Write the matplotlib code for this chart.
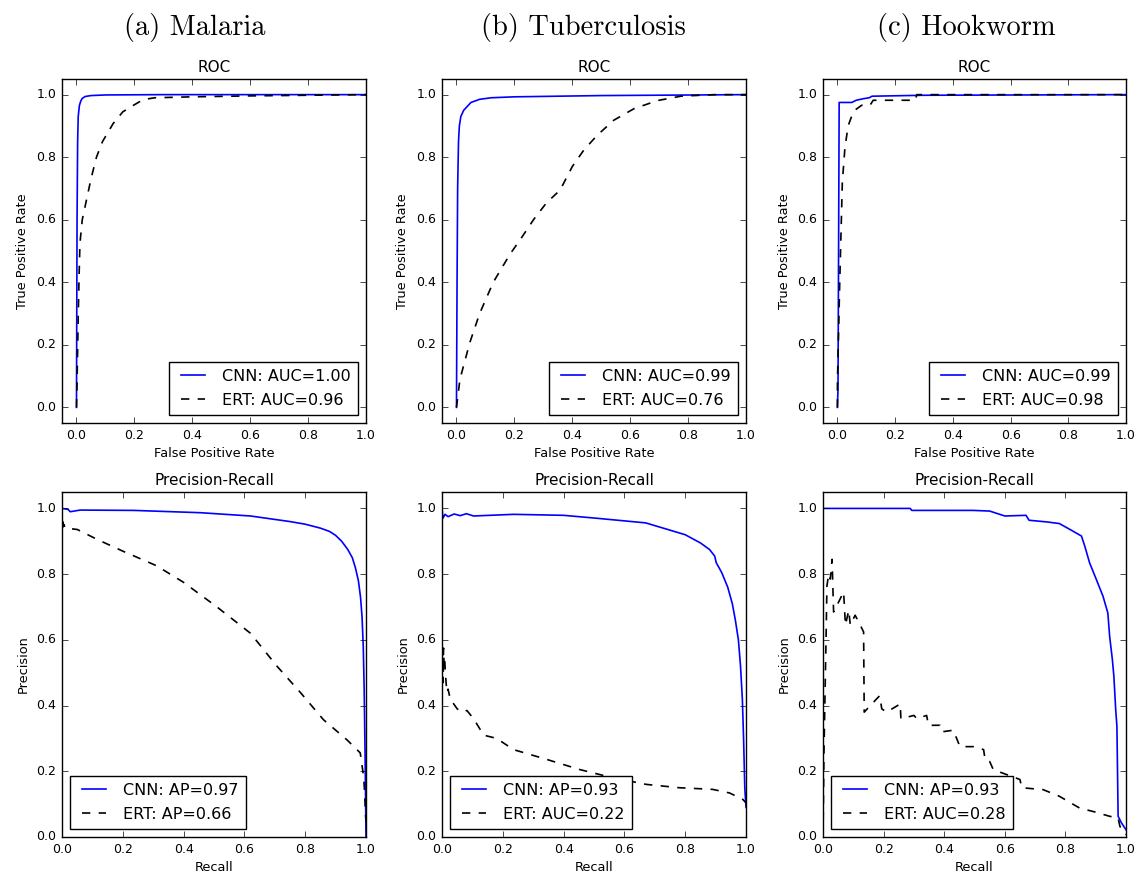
import numpy as np
import matplotlib
matplotlib.use('Agg')
import matplotlib.pyplot as plt

plt.style.use('classic')
plt.rcParams['font.family'] = ['DejaVu Sans']
plt.rcParams['savefig.facecolor'] = 'white'

# ---- data ----
col_titles = ['(a) Malaria', '(b) Tuberculosis', '(c) Hookworm']

# ROC curves (false positive rate, true positive rate)
mal_roc_cnn_x = [0, 0.001, 0.002, 0.004, 0.006, 0.01, 0.015, 0.02, 0.03, 0.05, 0.1, 0.3, 1.0]
mal_roc_cnn_y = [0, 0.3, 0.6, 0.85, 0.93, 0.965, 0.98, 0.988, 0.994, 0.997, 0.999, 1.0, 1.0]
mal_roc_ert_x = [0, 0.002, 0.006, 0.009, 0.012, 0.02, 0.037, 0.05, 0.069, 0.09, 0.127, 0.16, 0.197,
                 0.23, 0.27, 0.4, 0.6, 0.8, 1.0]
mal_roc_ert_y = [0, 0.08, 0.29, 0.42, 0.525, 0.6, 0.674, 0.73, 0.80, 0.85, 0.908, 0.945, 0.966,
                 0.984, 0.99, 0.993, 0.996, 0.998, 1.0]

tb_roc_cnn_x = [0, 0.002, 0.004, 0.007, 0.01, 0.015, 0.025, 0.035, 0.05, 0.08, 0.12, 0.2, 0.5, 1.0]
tb_roc_cnn_y = [0, 0.4, 0.7, 0.85, 0.9, 0.93, 0.95, 0.96, 0.975, 0.985, 0.99, 0.993, 0.997, 1.0]
tb_roc_ert_x = [0, 0.012, 0.046, 0.08, 0.127, 0.185, 0.22, 0.266, 0.31, 0.358, 0.40, 0.44, 0.486,
                0.543, 0.613, 0.694, 0.775, 0.89, 1.0]
tb_roc_ert_y = [0, 0.09, 0.207, 0.30, 0.40, 0.49, 0.536, 0.60, 0.653, 0.695, 0.77, 0.823, 0.87,
                0.918, 0.955, 0.981, 0.995, 1.0, 1.0]

hk_roc_cnn_x = [0, 0.002, 0.004, 0.006, 0.05, 0.065, 0.09, 0.11, 0.12, 0.3, 1.0]
hk_roc_cnn_y = [0, 0.06, 0.5, 0.975, 0.975, 0.982, 0.987, 0.99, 0.995, 0.998, 1.0]
hk_roc_ert_x = [0, 0.0, 0.008, 0.017, 0.026, 0.037, 0.049, 0.06, 0.084, 0.113, 0.124, 0.27, 0.275, 1.0]
hk_roc_ert_y = [0, 0.08, 0.40, 0.72, 0.83, 0.90, 0.93, 0.95, 0.966, 0.966, 0.982, 0.982, 1.0, 1.0]

# Precision-Recall curves (recall, precision)
mal_pr_cnn_x = [0, 0.02, 0.027, 0.06, 0.236, 0.455, 0.62, 0.75, 0.8, 0.85, 0.88, 0.9, 0.92, 0.94,
                0.955, 0.965, 0.975, 0.982, 0.987, 0.991, 0.994, 0.997, 1.0]
mal_pr_cnn_y = [1.0, 0.997, 0.99, 0.995, 0.994, 0.987, 0.977, 0.96, 0.952, 0.94, 0.93, 0.918, 0.90,
                0.875, 0.85, 0.82, 0.78, 0.73, 0.67, 0.58, 0.45, 0.25, 0.0]
mal_pr_ert_x = [0, 0.001, 0.002, 0.003, 0.004, 0.005, 0.007, 0.01, 0.05, 0.115, 0.2, 0.31, 0.4,
                0.51, 0.62, 0.707, 0.784, 0.86, 0.937, 0.981, 0.992, 0.996, 0.998, 1.0]
mal_pr_ert_y = [0.97, 0.93, 0.96, 0.94, 0.955, 0.945, 0.95, 0.94, 0.936, 0.906, 0.87, 0.826, 0.775,
                0.70, 0.62, 0.52, 0.44, 0.357, 0.296, 0.256, 0.185, 0.13, 0.07, 0.05]

tb_pr_cnn_x = [0, 0.003, 0.01, 0.02, 0.04, 0.06, 0.08, 0.104, 0.235, 0.4, 0.51, 0.67, 0.8, 0.85,
               0.88, 0.897, 0.902, 0.92, 0.94, 0.955, 0.965, 0.975, 0.982, 0.988, 0.992, 0.996, 1.0]
tb_pr_cnn_y = [1.0, 0.97, 0.982, 0.975, 0.983, 0.978, 0.984, 0.977, 0.982, 0.979, 0.97, 0.956, 0.92,
               0.895, 0.875, 0.855, 0.835, 0.805, 0.76, 0.71, 0.66, 0.60, 0.52, 0.42, 0.30, 0.15, 0.09]
tb_pr_ert_x = [0, 0.002, 0.004, 0.005, 0.007, 0.009, 0.011, 0.016, 0.02, 0.027, 0.05, 0.065, 0.082,
               0.104, 0.137, 0.18, 0.235, 0.345, 0.454, 0.563, 0.673, 0.78, 0.89, 0.946, 0.99, 1.0]
tb_pr_ert_y = [0.5, 0.57, 0.47, 0.575, 0.52, 0.54, 0.5, 0.44, 0.45, 0.42, 0.39, 0.38, 0.385,
               0.36, 0.31, 0.30, 0.266, 0.236, 0.205, 0.18, 0.16, 0.15, 0.145, 0.134, 0.114, 0.104]

hk_pr_cnn_x = [0, 0.288, 0.293, 0.49, 0.496, 0.55, 0.6, 0.67, 0.68, 0.738, 0.78, 0.815, 0.853,
               0.864, 0.88, 0.902, 0.924, 0.94, 0.946, 0.955, 0.96, 0.966, 0.97, 0.974, 0.985, 1.0]
hk_pr_cnn_y = [1.0, 1.0, 0.994, 0.994, 0.994, 0.992, 0.977, 0.979, 0.964, 0.959, 0.954, 0.936, 0.916,
               0.885, 0.834, 0.784, 0.733, 0.682, 0.611, 0.54, 0.489, 0.388, 0.337, 0.063, 0.043, 0.022]
hk_pr_ert_x = [0, 0.003, 0.01, 0.013, 0.019, 0.024, 0.03, 0.033, 0.035, 0.052, 0.068, 0.074, 0.085,
               0.09, 0.106, 0.123, 0.134, 0.136, 0.156, 0.187, 0.194, 0.21, 0.255, 0.257, 0.3, 0.31,
               0.342, 0.348, 0.386, 0.392, 0.43, 0.452, 0.496, 0.53, 0.535, 0.55, 0.562, 0.65, 0.656,
               0.727, 0.78, 0.847, 0.89, 0.946, 0.974, 0.98, 1.0]
hk_pr_ert_y = [0.0, 0.25, 0.60, 0.765, 0.80, 0.785, 0.845, 0.745, 0.685, 0.716, 0.746, 0.645, 0.69,
               0.645, 0.675, 0.645, 0.624, 0.38, 0.40, 0.43, 0.39, 0.38, 0.405, 0.36, 0.37, 0.36,
               0.37, 0.34, 0.34, 0.32, 0.325, 0.275, 0.275, 0.266, 0.235, 0.23, 0.205, 0.175, 0.15,
               0.144, 0.124, 0.088, 0.078, 0.063, 0.058, 0.032, 0.007]

roc_labels = [('CNN: AUC=1.00', 'ERT: AUC=0.96'),
              ('CNN: AUC=0.99', 'ERT: AUC=0.76'),
              ('CNN: AUC=0.99', 'ERT: AUC=0.98')]
pr_labels = [('CNN: AP=0.97', 'ERT: AP=0.66'),
             ('CNN: AP=0.93', 'ERT: AUC=0.22'),
             ('CNN: AP=0.93', 'ERT: AUC=0.28')]

roc_data = [(mal_roc_cnn_x, mal_roc_cnn_y, mal_roc_ert_x, mal_roc_ert_y),
            (tb_roc_cnn_x, tb_roc_cnn_y, tb_roc_ert_x, tb_roc_ert_y),
            (hk_roc_cnn_x, hk_roc_cnn_y, hk_roc_ert_x, hk_roc_ert_y)]
pr_data = [(mal_pr_cnn_x, mal_pr_cnn_y, mal_pr_ert_x, mal_pr_ert_y),
           (tb_pr_cnn_x, tb_pr_cnn_y, tb_pr_ert_x, tb_pr_ert_y),
           (hk_pr_cnn_x, hk_pr_cnn_y, hk_pr_ert_x, hk_pr_ert_y)]

# ---- layout (pixel boxes of the axes) ----
W, H = 1136, 875
fig = plt.figure(figsize=(W / 100, H / 100), dpi=100)
fig.patch.set_facecolor('white')

col_left = [62, 442, 823]
col_right = [366, 746, 1126]
row_top = [79, 492]
row_bot = [423, 837]
title_x = [195, 583, 966]

leg_kw = dict(fontsize=11.5, handlelength=2.1, handletextpad=0.76, borderpad=0.45,
              borderaxespad=0.5, labelspacing=0.55)


def make_axes(l, r, t, b):
    return fig.add_axes([l / W, 1 - b / H, (r - l) / W, (b - t) / H])


def style_axes(ax):
    ax.tick_params(labelsize=9, direction='in', length=4, top=True, right=True)
    ax.set_xticks(np.arange(0, 1.01, 0.2))
    ax.set_yticks(np.arange(0, 1.01, 0.2))
    ax.xaxis.set_major_formatter(matplotlib.ticker.FormatStrFormatter('%.1f'))
    ax.yaxis.set_major_formatter(matplotlib.ticker.FormatStrFormatter('%.1f'))


for i in range(3):
    # ROC row
    ax = make_axes(col_left[i], col_right[i], row_top[0], row_bot[0])
    cx, cy, ex, ey = roc_data[i]
    ax.plot(cx, cy, 'b-', lw=1.2, label=roc_labels[i][0])
    ax.plot(ex, ey, 'k--', lw=1.2, label=roc_labels[i][1])
    ax.set_xlim(-0.05, 1.0)
    ax.set_ylim(-0.05, 1.05)
    style_axes(ax)
    ax.set_title('ROC', fontsize=11, pad=5)
    ax.set_xlabel('False Positive Rate', fontsize=9.3, labelpad=4)
    ax.set_ylabel('True Positive Rate', fontsize=9.3, labelpad=5)
    ax.legend(loc='lower right', **leg_kw)

    # Precision-Recall row
    ax = make_axes(col_left[i], col_right[i], row_top[1], row_bot[1])
    cx, cy, ex, ey = pr_data[i]
    ax.plot(cx, cy, 'b-', lw=1.2, label=pr_labels[i][0])
    ax.plot(ex, ey, 'k--', lw=1.2, label=pr_labels[i][1])
    ax.set_xlim(0, 1.0)
    ax.set_ylim(0, 1.05)
    style_axes(ax)
    ax.set_title('Precision-Recall', fontsize=11, pad=5)
    ax.set_xlabel('Recall', fontsize=9.3, labelpad=4)
    ax.set_ylabel('Precision', fontsize=9.3, labelpad=5)
    ax.legend(loc='lower left', **leg_kw)

    fig.text(title_x[i] / W, 1 - 28 / H, col_titles[i], fontsize=20.5, family='cmr10',
             ha='center', va='center')

fig.savefig('out.png', dpi=100)
